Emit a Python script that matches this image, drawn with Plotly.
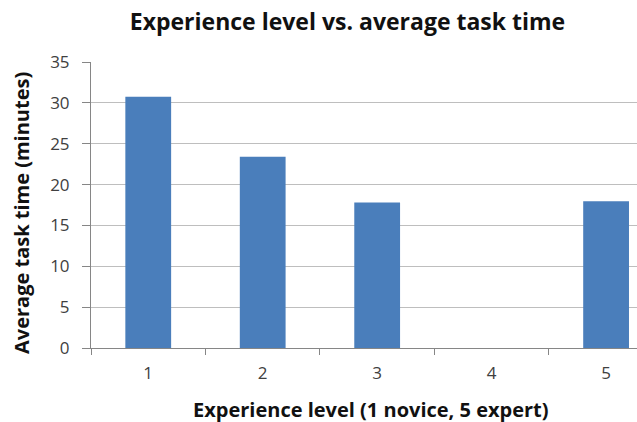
import plotly.graph_objects as go

levels = ["1", "2", "3", "4", "5"]
avg_time = [30.75, 23.4, 17.8, 0, 17.95]
y_ticks = [0, 5, 10, 15, 20, 25, 30, 35]

FONT = "Open Sans"
GRID = "#BEBEBE"
AXIS = "#868686"

fig = go.Figure(layout={"width": 637, "height": 422})
fig.add_trace(
    go.Bar(
        x=levels,
        y=avg_time,
        marker=dict(color="#4A7EBB", line=dict(width=0)),
        width=0.4,
        hoverinfo="x+y",
    )
)

fig.update_layout(
    margin=dict(l=91, r=0, t=62, b=74),
    paper_bgcolor="white",
    plot_bgcolor="white",
    showlegend=False,
    font=dict(family=FONT, color="#404040"),
    title=dict(
        text="<b>Experience level vs. average task time</b>",
        font=dict(family=FONT, size=23, color="#111111"),
        x=347.5 / 637, xanchor="center", xref="container",
        y=0.948, yanchor="middle",
    ),
    xaxis=dict(
        type="category",
        range=[-0.5, 4.27],
        tickson="boundaries",
        ticks="outside",
        ticklen=6,
        tickcolor=AXIS,
        showline=True,
        linecolor=AXIS,
        showgrid=False,
        tickfont=dict(size=17, color="#404040"),
        ticklabelstandoff=10,
    ),
    yaxis=dict(
        range=[0, 35],
        tickvals=y_ticks,
        ticks="outside",
        ticklen=8,
        tickcolor=AXIS,
        showline=True,
        linecolor=AXIS,
        showgrid=True,
        gridcolor=GRID,
        zeroline=False,
        tickfont=dict(size=17, color="#404040"),
        ticklabelstandoff=9,
    ),
    annotations=[
        dict(
            text="<b>Average task time (minutes)</b>",
            xref="paper", yref="paper",
            x=-69 / 546, y=(348 - 213) / 286,
            xanchor="center", yanchor="middle",
            textangle=-90, showarrow=False,
            font=dict(family=FONT, size=20, color="#111111"),
        ),
        dict(
            text="<b>Experience level (1 novice, 5 expert)</b>",
            xref="paper", yref="paper",
            x=(371 - 91) / 546, y=-61 / 286,
            xanchor="center", yanchor="middle",
            showarrow=False,
            font=dict(family=FONT, size=20, color="#111111"),
        ),
    ],
)

# page body has an 8px default margin; drop it so the figure sits at 0,0
fig.write_html(
    "out.html",
    config={"displayModeBar": False},
    post_script="document.body.style.margin='0';",
)
